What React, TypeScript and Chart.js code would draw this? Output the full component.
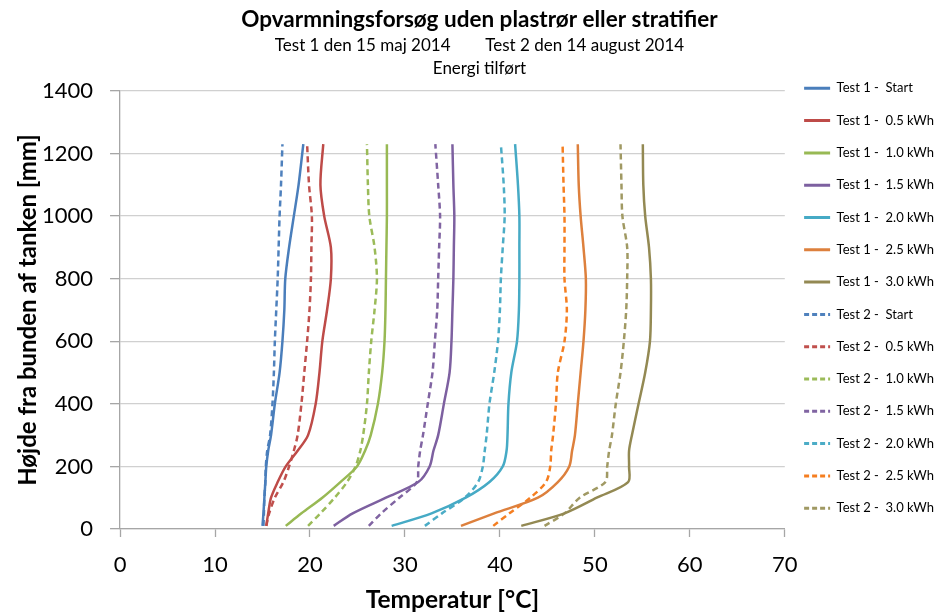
import React, { useEffect, useRef } from "react";
import { Chart, registerables } from "chart.js";

Chart.register(...registerables);

// Heights in the tank [mm] (y axis)
const heights = [10, 50, 100, 150, 200, 250, 300, 400, 500, 600, 700, 800, 900, 1000, 1100, 1230];

const stepLabels = ["Start", "0.5 kWh", "1.0 kWh", "1.5 kWh", "2.0 kWh", "2.5 kWh", "3.0 kWh"];

// Test 1 temperatures [°C] at each height
const test1Start = [15.0, 15.1, 15.2, 15.3, 15.4, 15.6, 15.9, 16.3, 16.8, 17.1, 17.3, 17.4, 17.8, 18.3, 18.8, 19.3];
const test1_05 = [15.4, 15.6, 15.9, 16.6, 17.45, 18.7, 19.8, 20.6, 21.0, 21.3, 21.8, 22.2, 22.2, 21.5, 21.1, 21.4];
const test1_10 = [17.45, 19.1, 21.3, 23.2, 24.95, 25.8, 26.4, 27.15, 27.6, 27.85, 27.95, 28.0, 28.05, 28.1, 28.1, 28.1];
const test1_15 = [22.5, 24.5, 28.0, 31.4, 32.6, 33.0, 33.5, 34.1, 34.7, 34.9, 35.0, 35.1, 35.15, 35.2, 35.1, 35.0];
const test1_20 = [28.6, 32.8, 36.4, 38.9, 40.3, 40.7, 40.8, 40.9, 41.2, 41.8, 42.0, 42.05, 42.05, 42.05, 41.9, 41.6];
const test1_25 = [35.9, 39.4, 44.0, 46.1, 47.3, 47.6, 47.9, 48.2, 48.5, 48.8, 49.0, 49.05, 48.8, 48.5, 48.3, 48.2];
const test1_30 = [42.25, 46.8, 50.2, 53.5, 53.6, 53.6, 53.9, 54.6, 55.3, 55.8, 55.9, 55.9, 55.7, 55.3, 55.1, 55.05];

// Test 2 temperatures [°C] at each height
const test2Start = [15.1, 15.15, 15.2, 15.3, 15.35, 15.5, 15.8, 16.05, 16.2, 16.3, 16.45, 16.6, 16.7, 16.8, 16.95, 17.1];
const test2_05 = [15.4, 15.7, 16.3, 17.2, 17.8, 18.3, 18.7, 19.1, 19.4, 19.7, 19.95, 20.1, 20.15, 20.2, 19.9, 19.7];
const test2_10 = [19.8, 21.1, 22.6, 23.9, 24.8, 25.3, 25.6, 26.0, 26.2, 26.45, 26.8, 27.05, 26.8, 26.25, 26.1, 26.0];
const test2_15 = [26.2, 27.5, 29.4, 31.25, 31.4, 31.6, 31.9, 32.4, 32.9, 33.15, 33.4, 33.5, 33.6, 33.7, 33.5, 33.2];
const test2_20 = [32.1, 33.9, 36.3, 37.7, 38.2, 38.4, 38.6, 38.9, 39.4, 39.8, 40.0, 40.1, 40.3, 40.5, 40.4, 40.1];
const test2_25 = [39.3, 41.0, 43.2, 44.85, 45.3, 45.4, 45.6, 45.9, 46.1, 46.8, 47.05, 46.8, 46.8, 46.8, 46.7, 46.6];
const test2_30 = [44.7, 46.8, 48.4, 51.1, 51.3, 51.5, 51.8, 52.2, 52.7, 53.05, 53.3, 53.4, 53.4, 52.9, 52.8, 52.7];

const test1Series = [test1Start, test1_05, test1_10, test1_15, test1_20, test1_25, test1_30];
const test2Series = [test2Start, test2_05, test2_10, test2_15, test2_20, test2_25, test2_30];

const test1Colors = ["#4A7EBB", "#BE4B48", "#98B954", "#7D60A0", "#46AAC5", "#DD803D", "#938953"];
const test2Colors = ["#4F81BD", "#C0504D", "#9BBB59", "#8064A2", "#4BACC6", "#F57E20", "#A09963"];

const titleText = "Opvarmningsforsøg uden plastrør eller stratifier";
const subtitleLines = [
  "Test 1 den 15 maj 2014" + " ".repeat(8) + "Test 2 den 14 august 2014",
  "Energi tilført",
];
const xTitle = "Temperatur [°C]";
const yTitle = "Højde fra bunden af tanken [mm]";

const FONT = "Lato";

function toPoints(temps: number[]) {
  return temps.map((t, i) => ({ x: t, y: heights[i] }));
}

export default function App() {
  const ref = useRef<HTMLCanvasElement | null>(null);

  useEffect(() => {
    if (!ref.current) return;
    Chart.defaults.font.family = FONT;
    const datasets: any[] = [];
    test1Series.forEach((s, i) => {
      datasets.push({
        label: "Test 1 -  " + stepLabels[i],
        data: toPoints(s),
        borderColor: test1Colors[i],
        backgroundColor: test1Colors[i],
        borderWidth: 2.5,
        borderDash: [],
        showLine: true,
        pointRadius: 0,
        tension: 0.3,
      });
    });
    test2Series.forEach((s, i) => {
      datasets.push({
        label: "Test 2 -  " + stepLabels[i],
        data: toPoints(s),
        borderColor: test2Colors[i],
        backgroundColor: test2Colors[i],
        borderWidth: 2.5,
        borderDash: [6, 4],
        showLine: true,
        pointRadius: 0,
        tension: 0.3,
      });
    });

    const chart = new Chart(ref.current, {
      type: "scatter",
      data: { datasets },
      options: {
        animation: false,
        responsive: true,
        maintainAspectRatio: false,
        layout: { padding: { left: 15, right: -8, top: 0, bottom: 0 } },
        plugins: {
          tooltip: { enabled: false },
          title: {
            display: true,
            text: titleText,
            color: "#000",
            font: { family: FONT, size: 22.5, weight: "bold", lineHeight: 1.2 },
            padding: { top: 6.5, bottom: 1 },
          },
          subtitle: {
            display: true,
            text: subtitleLines,
            color: "#000",
            font: { family: FONT, size: 17, lineHeight: 1.353 },
            padding: { top: 0, bottom: 10.5 },
          },
          legend: {
            display: true,
            position: "right",
            align: "start",
            fullSize: true,
            title: {
              display: true,
              text: " ",
              font: { size: 10, lineHeight: 1.2 },
              padding: { top: 50.5, bottom: 0 },
            },
            labels: {
              usePointStyle: true,
              pointStyleWidth: 26,
              boxWidth: 26,
              padding: 19.3,
              color: "#000",
              font: { family: FONT, size: 13 },
              generateLabels: (c: any) =>
                c.data.datasets.map((ds: any, i: number) => ({
                  text: ds.label,
                  strokeStyle: ds.borderColor,
                  fillStyle: ds.borderColor,
                  lineWidth: 3,
                  lineDash: ds.borderDash && ds.borderDash.length ? [5, 3] : [],
                  pointStyle: "line",
                  hidden: false,
                  datasetIndex: i,
                  fontColor: "#000",
                })),
            },
          },
        },
        scales: {
          x: {
            type: "linear",
            min: 0,
            max: 70,
            ticks: {
              stepSize: 10,
              color: "#000",
              padding: 15,
              font: { family: FONT, size: 22 },
              callback: (v: any) => String(v),
            },
            grid: {
              drawOnChartArea: false,
              drawTicks: true,
              tickLength: 8,
              tickColor: "#a6a6a6",
              tickWidth: 1.3,
            },
            border: { display: true, color: "#a6a6a6", width: 1.3 },
            title: {
              display: true,
              text: xTitle,
              color: "#000",
              font: { family: FONT, size: 24.5, weight: "bold", lineHeight: 1.2 },
              padding: { top: -8.1, bottom: -1.7 },
            },
          },
          y: {
            type: "linear",
            min: 0,
            max: 1400,
            ticks: {
              stepSize: 200,
              color: "#000",
              padding: 17,
              font: { family: FONT, size: 22 },
              callback: (v: any) => String(v),
            },
            grid: {
              color: "#d0d0d0",
              lineWidth: 1.3,
              drawTicks: true,
              tickLength: 10,
              tickColor: "#a6a6a6",
            },
            border: { display: true, color: "#a6a6a6", width: 1.3 },
            title: {
              display: true,
              text: yTitle,
              color: "#000",
              font: { family: FONT, size: 24, weight: "bold", lineHeight: 1.2 },
              padding: { top: -1.4, bottom: -17.4 },
            },
          },
        },
      } as any,
    });
    return () => chart.destroy();
  }, []);

  return (
    <div style={{ position: "fixed", left: 0, top: 0, width: 936, height: 613, background: "#fff" }}>
      <canvas ref={ref} />
    </div>
  );
}
